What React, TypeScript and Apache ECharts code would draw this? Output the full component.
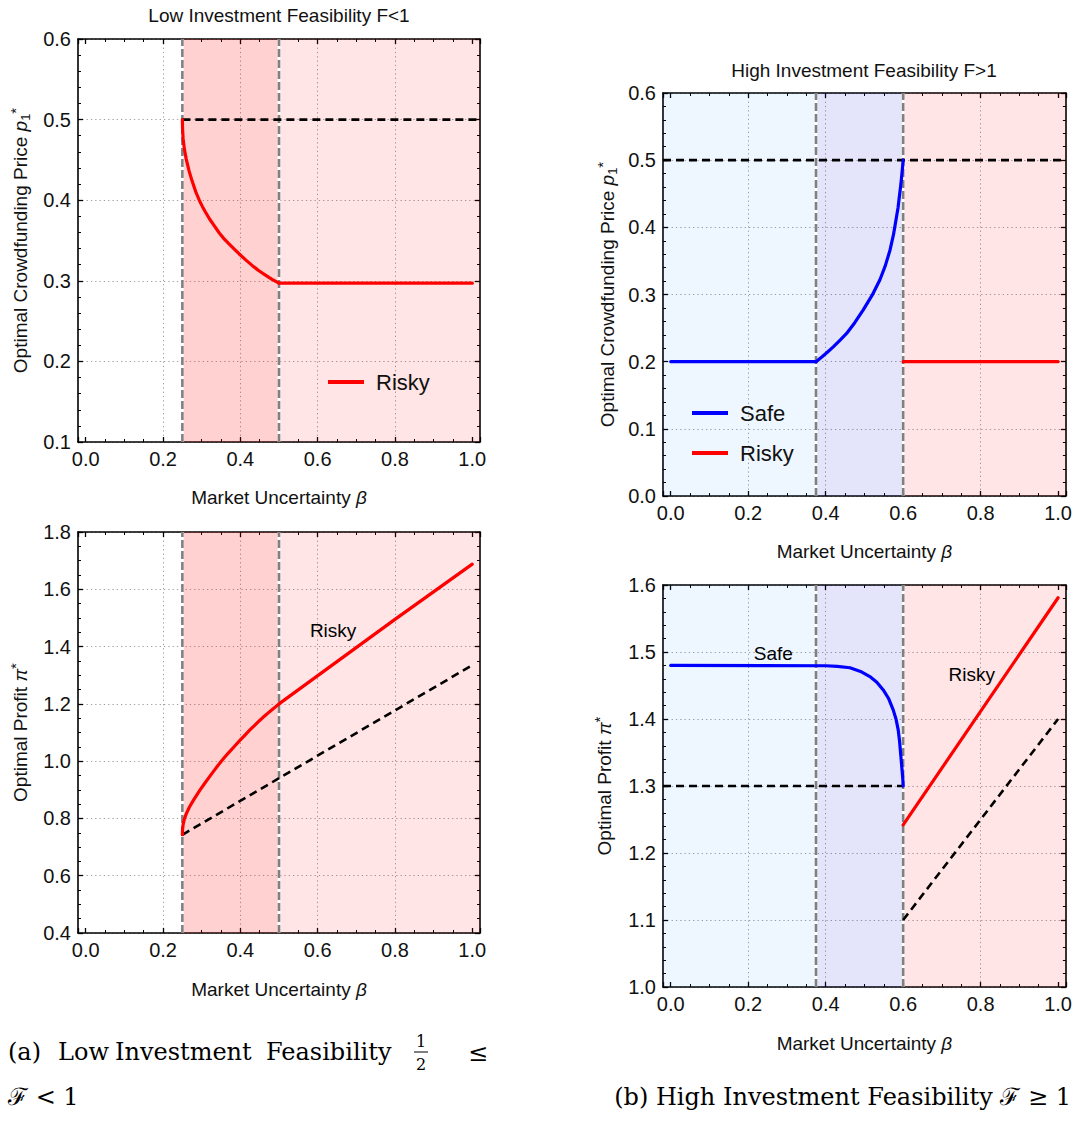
import React, { useEffect, useRef } from "react";
import * as echarts from "echarts";

const FONT = "'Liberation Sans', Arial, sans-serif";
const SERIF = "'DejaVu Serif', 'Liberation Serif', serif";
const INK = "#111111";

// ---------- shared beta axis ----------
const BETA_MIN = -0.02;
const BETA_MAX = 1.02;

// ---------- (a) low feasibility: price ----------
const lowPriceRisky: [number, number][] = [
  [0.25, 0.5], [0.2505, 0.488], [0.252, 0.476], [0.255, 0.464], [0.26, 0.451],
  [0.267, 0.437], [0.275, 0.424], [0.285, 0.41], [0.2946, 0.399], [0.302, 0.392],
  [0.31, 0.385], [0.32, 0.377], [0.33, 0.37], [0.346, 0.359], [0.358, 0.352],
  [0.37, 0.346], [0.385, 0.339], [0.4, 0.332], [0.416, 0.325], [0.432, 0.3185],
  [0.448, 0.3125], [0.465, 0.307], [0.482, 0.3018], [0.5, 0.297],
];
const lowPriceRiskyFlat: [number, number][] = [[0.5, 0.297], [1.0, 0.297]];
const lowPriceBench: [number, number][] = [[0.25, 0.5], [1.015, 0.5]];

// ---------- (a) low feasibility: profit ----------
const lowProfitRisky: [number, number][] = [
  [0.25, 0.743], [0.2505, 0.762], [0.252, 0.779], [0.255, 0.797], [0.26, 0.816],
  [0.268, 0.839], [0.278, 0.862], [0.2946, 0.897], [0.307, 0.921], [0.32, 0.945],
  [0.331, 0.965], [0.342, 0.985], [0.356, 1.008], [0.37, 1.03], [0.385, 1.052],
  [0.4, 1.074], [0.412, 1.091], [0.424, 1.108], [0.437, 1.125], [0.45, 1.142],
  [0.462, 1.157], [0.475, 1.172], [0.488, 1.186], [0.5, 1.2],
];
const lowProfitRiskyLinear: [number, number][] = [[0.5, 1.2], [0.8, 1.495], [1.0, 1.688]];
const lowProfitBench: [number, number][] = [[0.25, 0.743], [1.0, 1.335]];

// ---------- (b) high feasibility: price ----------
const highPriceSafeFlat: [number, number][] = [[0, 0.2], [0.375, 0.2]];
const highPriceSafe: [number, number][] = [
  [0.375, 0.2], [0.39, 0.207], [0.405, 0.2145], [0.4195, 0.222], [0.436, 0.2315],
  [0.454, 0.242], [0.475, 0.258], [0.497, 0.277], [0.52, 0.299], [0.54, 0.322],
  [0.554, 0.343], [0.566, 0.366], [0.575, 0.389], [0.583, 0.416], [0.587, 0.43],
  [0.59, 0.445], [0.593, 0.459], [0.5955, 0.472], [0.598, 0.487], [0.6, 0.5],
];
const highPriceRisky: [number, number][] = [[0.6, 0.2], [1.0, 0.2]];
const highPriceBench: [number, number][] = [[-0.02, 0.5], [1.02, 0.5]];

// ---------- (b) high feasibility: profit ----------
const highProfitSafe: [number, number][] = [
  [0, 1.48], [0.4, 1.4795], [0.43, 1.4785], [0.4626, 1.4765], [0.49, 1.471],
  [0.514, 1.4633], [0.532, 1.455], [0.5486, 1.4434], [0.562, 1.431], [0.5743, 1.4136],
  [0.5815, 1.4], [0.5872, 1.3837], [0.5905, 1.368], [0.5934, 1.349], [0.597, 1.325],
  [0.5992, 1.31], [0.6, 1.3],
];
const highProfitRisky: [number, number][] = [[0.6, 1.242], [1.0, 1.581]];
const highProfitBenchSafe: [number, number][] = [[-0.02, 1.3], [0.6, 1.3]];
const highProfitBenchRisky: [number, number][] = [[0.6, 1.1], [1.0, 1.4]];

// ---------- regime boundaries and shading ----------
const lowThresholds = [0.25, 0.5];
const highThresholds = [0.375, 0.6];
const lowRegions = [
  { from: 0.25, to: 0.5, color: "rgba(255,0,0,0.18)" },
  { from: 0.5, to: 1.02, color: "rgba(255,0,0,0.1)" },
];
const highRegions = [
  { from: -0.02, to: 0.375, color: "rgba(12,127,255,0.07)" },
  { from: 0.375, to: 0.6, color: "rgba(10,10,210,0.11)" },
  { from: 0.6, to: 1.02, color: "rgba(255,0,0,0.1)" },
];

// ---------- in-plot annotations ----------
const lowProfitLabels = [{ text: "Risky", at: [0.64, 1.455] }];
const highProfitLabels = [
  { text: "Safe", at: [0.265, 1.498] },
  { text: "Risky", at: [0.777, 1.467] },
];

const RED = "#ff0000";
const BLUE = "#0000ff";

type LineDef = { name: string; data: [number, number][]; color: string; dashed?: boolean };

type Panel = {
  grid: { left: number; top: number; width: number; height: number };
  yMin: number; yMax: number; yInterval: number; yMinor: number; xMinor: number;
  yName: string; yNameGap: number; xNameGap: number;
  regions: { from: number; to: number; color: string }[];
  thresholds: number[];
  lines: LineDef[];
  labels: { text: string; at: number[] }[];
};

const panels: Panel[] = [
  {
    grid: { left: 78, top: 39, width: 402, height: 403 },
    yMin: 0.1, yMax: 0.6, yInterval: 0.1, yMinor: 5, xMinor: 4,
    yName: "Optimal Crowdfunding Price {i|p}{sub|1}{sup|*}", yNameGap: 46, xNameGap: 46,
    regions: lowRegions, thresholds: lowThresholds,
    lines: [
      { name: "bench-a1", data: lowPriceBench, color: "#000", dashed: true },
      { name: "Risky", data: lowPriceRisky, color: RED },
      { name: "Risky", data: lowPriceRiskyFlat, color: RED },
    ],
    labels: [],
  },
  {
    grid: { left: 78, top: 532, width: 402, height: 401 },
    yMin: 0.4, yMax: 1.8, yInterval: 0.2, yMinor: 4, xMinor: 4,
    yName: "Optimal Profit {i|π}{sup|*}", yNameGap: 46, xNameGap: 47,
    regions: lowRegions, thresholds: lowThresholds,
    lines: [
      { name: "bench-a2", data: lowProfitBench, color: "#000", dashed: true },
      { name: "Risky", data: lowProfitRisky, color: RED },
      { name: "Risky", data: lowProfitRiskyLinear, color: RED },
    ],
    labels: lowProfitLabels,
  },
  {
    grid: { left: 663, top: 93, width: 403, height: 403 },
    yMin: 0, yMax: 0.6, yInterval: 0.1, yMinor: 5, xMinor: 4,
    yName: "Optimal Crowdfunding Price {i|p}{sub|1}{sup|*}", yNameGap: 44, xNameGap: 46,
    regions: highRegions, thresholds: highThresholds,
    lines: [
      { name: "bench-b1", data: highPriceBench, color: "#000", dashed: true },
      { name: "Safe", data: highPriceSafeFlat, color: BLUE },
      { name: "Safe", data: highPriceSafe, color: BLUE },
      { name: "Risky", data: highPriceRisky, color: RED },
    ],
    labels: [],
  },
  {
    grid: { left: 663, top: 585, width: 403, height: 402 },
    yMin: 1.0, yMax: 1.6, yInterval: 0.1, yMinor: 5, xMinor: 4,
    yName: "Optimal Profit {i|π}{sup|*}", yNameGap: 47, xNameGap: 47,
    regions: highRegions, thresholds: highThresholds,
    lines: [
      { name: "bench-b2", data: highProfitBenchSafe, color: "#000", dashed: true },
      { name: "bench-b3", data: highProfitBenchRisky, color: "#000", dashed: true },
      { name: "Safe", data: highProfitSafe, color: BLUE },
      { name: "Risky", data: highProfitRisky, color: RED },
    ],
    labels: highProfitLabels,
  },
];

const GRID_COLORS = [
  "rgba(0,0,0,0)", "rgba(0,0,0,0)", "#a0a0a0", "#a0a0a0", "#a0a0a0", "#a0a0a0",
  "rgba(0,0,0,0)", "rgba(0,0,0,0)",
];

const fmt1 = (v: number) => v.toFixed(1);

const axisLine = { show: true, onZero: false, lineStyle: { color: "#000", width: 1.6 } };
const axisTick = { show: true, inside: true, length: 5, lineStyle: { color: "#000", width: 1.3 } };
const minorLine = { color: "#000", width: 1 };

const NAME_SIZE = 19;
const richName = {
  i: { fontStyle: "italic", fontSize: NAME_SIZE, fontFamily: FONT, color: INK },
  sub: { fontSize: 13, fontFamily: FONT, color: INK, verticalAlign: "bottom", lineHeight: 24 },
  sup: { fontSize: 15, fontFamily: FONT, color: INK, verticalAlign: "top", lineHeight: 24 },
};

function buildOption() {
  const grid: any[] = [];
  const xAxis: any[] = [];
  const yAxis: any[] = [];
  const series: any[] = [];

  panels.forEach((p, i) => {
    grid.push({ ...p.grid, containLabel: false });
    const xCommon = {
      gridIndex: i, type: "value", min: BETA_MIN, max: BETA_MAX, splitNumber: 5,
      axisLine, axisTick,
      minorTick: { show: true, splitNumber: p.xMinor, length: 3, lineStyle: minorLine },
    };
    xAxis.push({
      ...xCommon, position: "bottom",
      axisLabel: {
        show: true, showMinLabel: false, showMaxLabel: false, fontSize: 20,
        color: INK, fontFamily: FONT, margin: 7, formatter: fmt1,
      },
      splitLine: { show: true, lineStyle: { color: GRID_COLORS, width: 1, type: [1.3, 3] } },
      name: "Market Uncertainty {i|β}", nameLocation: "middle", nameGap: p.xNameGap,
      nameTextStyle: { fontSize: NAME_SIZE, color: INK, fontFamily: FONT, rich: richName },
    });
    xAxis.push({
      ...xCommon, position: "top",
      axisLabel: { show: false }, splitLine: { show: false },
    });
    const yCommon = {
      gridIndex: i, type: "value", min: p.yMin, max: p.yMax, interval: p.yInterval,
      axisLine, axisTick,
      minorTick: { show: true, splitNumber: p.yMinor, length: 3, lineStyle: minorLine },
    };
    yAxis.push({
      ...yCommon, position: "left",
      axisLabel: { show: true, fontSize: 20, color: INK, fontFamily: FONT, margin: 7, formatter: fmt1 },
      splitLine: { show: true, lineStyle: { color: "#a0a0a0", width: 1, type: [1.3, 3] } },
      name: p.yName, nameLocation: "middle", nameGap: p.yNameGap, nameRotate: 90,
      nameTextStyle: { fontSize: NAME_SIZE, color: INK, fontFamily: FONT, rich: richName },
    });
    yAxis.push({
      ...yCommon, position: "right",
      axisLabel: { show: false }, splitLine: { show: false },
    });

    const xi = 2 * i;
    const yi = 2 * i;

    // shaded regimes
    series.push({
      name: `regions-${i}`, type: "line", xAxisIndex: xi, yAxisIndex: yi, z: 1,
      symbol: "none", silent: true, data: [[p.regions[0].from, p.yMin]],
      lineStyle: { opacity: 0 },
      markArea: {
        silent: true,
        data: p.regions.map((r) => [
          { xAxis: r.from, itemStyle: { color: r.color } },
          { xAxis: r.to },
        ]),
      },
    });

    // regime thresholds (white under, grey dashes over)
    p.thresholds.forEach((t, k) => {
      const d = [[t, p.yMin], [t, p.yMax]];
      series.push({
        name: `thr-w-${i}-${k}`, type: "line", xAxisIndex: xi, yAxisIndex: yi, z: 3,
        symbol: "none", silent: true, data: d,
        lineStyle: { color: "#ffffff", width: 2.6 },
      });
      series.push({
        name: `thr-g-${i}-${k}`, type: "line", xAxisIndex: xi, yAxisIndex: yi, z: 4,
        symbol: "none", silent: true, data: d,
        lineStyle: { color: "#808080", width: 2.6, type: [8, 3] },
      });
    });

    p.lines.forEach((l) => {
      series.push({
        name: l.name, type: "line", xAxisIndex: xi, yAxisIndex: yi,
        z: l.dashed ? 5 : 6, symbol: "none", silent: true, data: l.data,
        itemStyle: { color: l.color },
        lineStyle: l.dashed
          ? { color: l.color, width: 2.6, type: [8, 5] }
          : { color: l.color, width: 3.2, join: "round", cap: "round" },
      });
    });

    p.labels.forEach((lb, k) => {
      series.push({
        name: `label-${i}-${k}`, type: "scatter", xAxisIndex: xi, yAxisIndex: yi, z: 7,
        symbol: "circle", symbolSize: 1, silent: true,
        itemStyle: { color: "rgba(0,0,0,0)" },
        data: [lb.at],
        label: {
          show: true, position: "inside", formatter: lb.text,
          fontSize: 19, color: "#000", fontFamily: FONT,
          textBorderWidth: 0, opacity: 1,
        },
      });
    });
  });

  const legendText = { fontSize: 22, fontFamily: FONT, color: INK, lineHeight: 24, padding: [0, 0, 0, 7] };

  return {
    animation: false,
    textStyle: { fontFamily: FONT },
    grid, xAxis, yAxis, series,
    legend: [
      {
        data: ["Risky"], left: 328, top: 370, orient: "vertical", icon: "rect", padding: 0,
        itemWidth: 36, itemHeight: 4, selectedMode: false, textStyle: legendText,
      },
      {
        data: ["Safe", "Risky"], left: 692, top: 401, orient: "vertical", icon: "rect", padding: 0,
        itemWidth: 36, itemHeight: 4, itemGap: 16, selectedMode: false, textStyle: legendText,
      },
    ],
    graphic: [
      {
        type: "text", x: 279, y: 15, silent: true,
        style: { text: "Low Investment Feasibility F<1", font: `19px ${FONT}`, fill: INK, align: "center", verticalAlign: "middle" },
      },
      {
        type: "text", x: 864, y: 70, silent: true,
        style: { text: "High Investment Feasibility F>1", font: `19px ${FONT}`, fill: INK, align: "center", verticalAlign: "middle" },
      },
      // caption (a)
      { type: "text", x: 8, y: 1052, silent: true, style: { text: "(a)", font: `24px ${SERIF}`, fill: "#000", align: "left", verticalAlign: "middle" } },
      { type: "text", x: 58, y: 1052, silent: true, style: { text: "Low", font: `24px ${SERIF}`, fill: "#000", align: "left", verticalAlign: "middle" } },
      { type: "text", x: 115, y: 1052, silent: true, style: { text: "Investment", font: `24px ${SERIF}`, fill: "#000", align: "left", verticalAlign: "middle" } },
      { type: "text", x: 266, y: 1052, silent: true, style: { text: "Feasibility", font: `24px ${SERIF}`, fill: "#000", align: "left", verticalAlign: "middle" } },
      { type: "text", x: 421, y: 1041, silent: true, style: { text: "1", font: `16px ${SERIF}`, fill: "#000", align: "center", verticalAlign: "middle" } },
      { type: "line", silent: true, shape: { x1: 414, y1: 1052, x2: 428, y2: 1052 }, style: { stroke: "#000", lineWidth: 1 } },
      { type: "text", x: 421, y: 1064, silent: true, style: { text: "2", font: `16px ${SERIF}`, fill: "#000", align: "center", verticalAlign: "middle" } },
      { type: "text", x: 478, y: 1053, silent: true, style: { text: "≤", font: `24px ${SERIF}`, fill: "#000", align: "center", verticalAlign: "middle" } },
      { type: "text", x: 8, y: 1097, silent: true, style: { text: "ℱ < 1", font: `24px ${SERIF}`, fill: "#000", align: "left", verticalAlign: "middle" } },
      // caption (b)
      { type: "text", x: 1071, y: 1097, silent: true, style: { text: "(b) High Investment Feasibility ℱ ≥ 1", font: `24px ${SERIF}`, fill: "#000", align: "right", verticalAlign: "middle" } },
    ],
  };
}

export default function App() {
  const ref = useRef<HTMLDivElement>(null);
  useEffect(() => {
    if (!ref.current) return;
    const chart = echarts.init(ref.current, undefined, { renderer: "svg" });
    chart.setOption(buildOption() as any);
    return () => chart.dispose();
  }, []);
  return (
    <div
      ref={ref}
      style={{ position: "absolute", left: 0, top: 0, width: 1075, height: 1124, background: "#ffffff" }}
    />
  );
}
